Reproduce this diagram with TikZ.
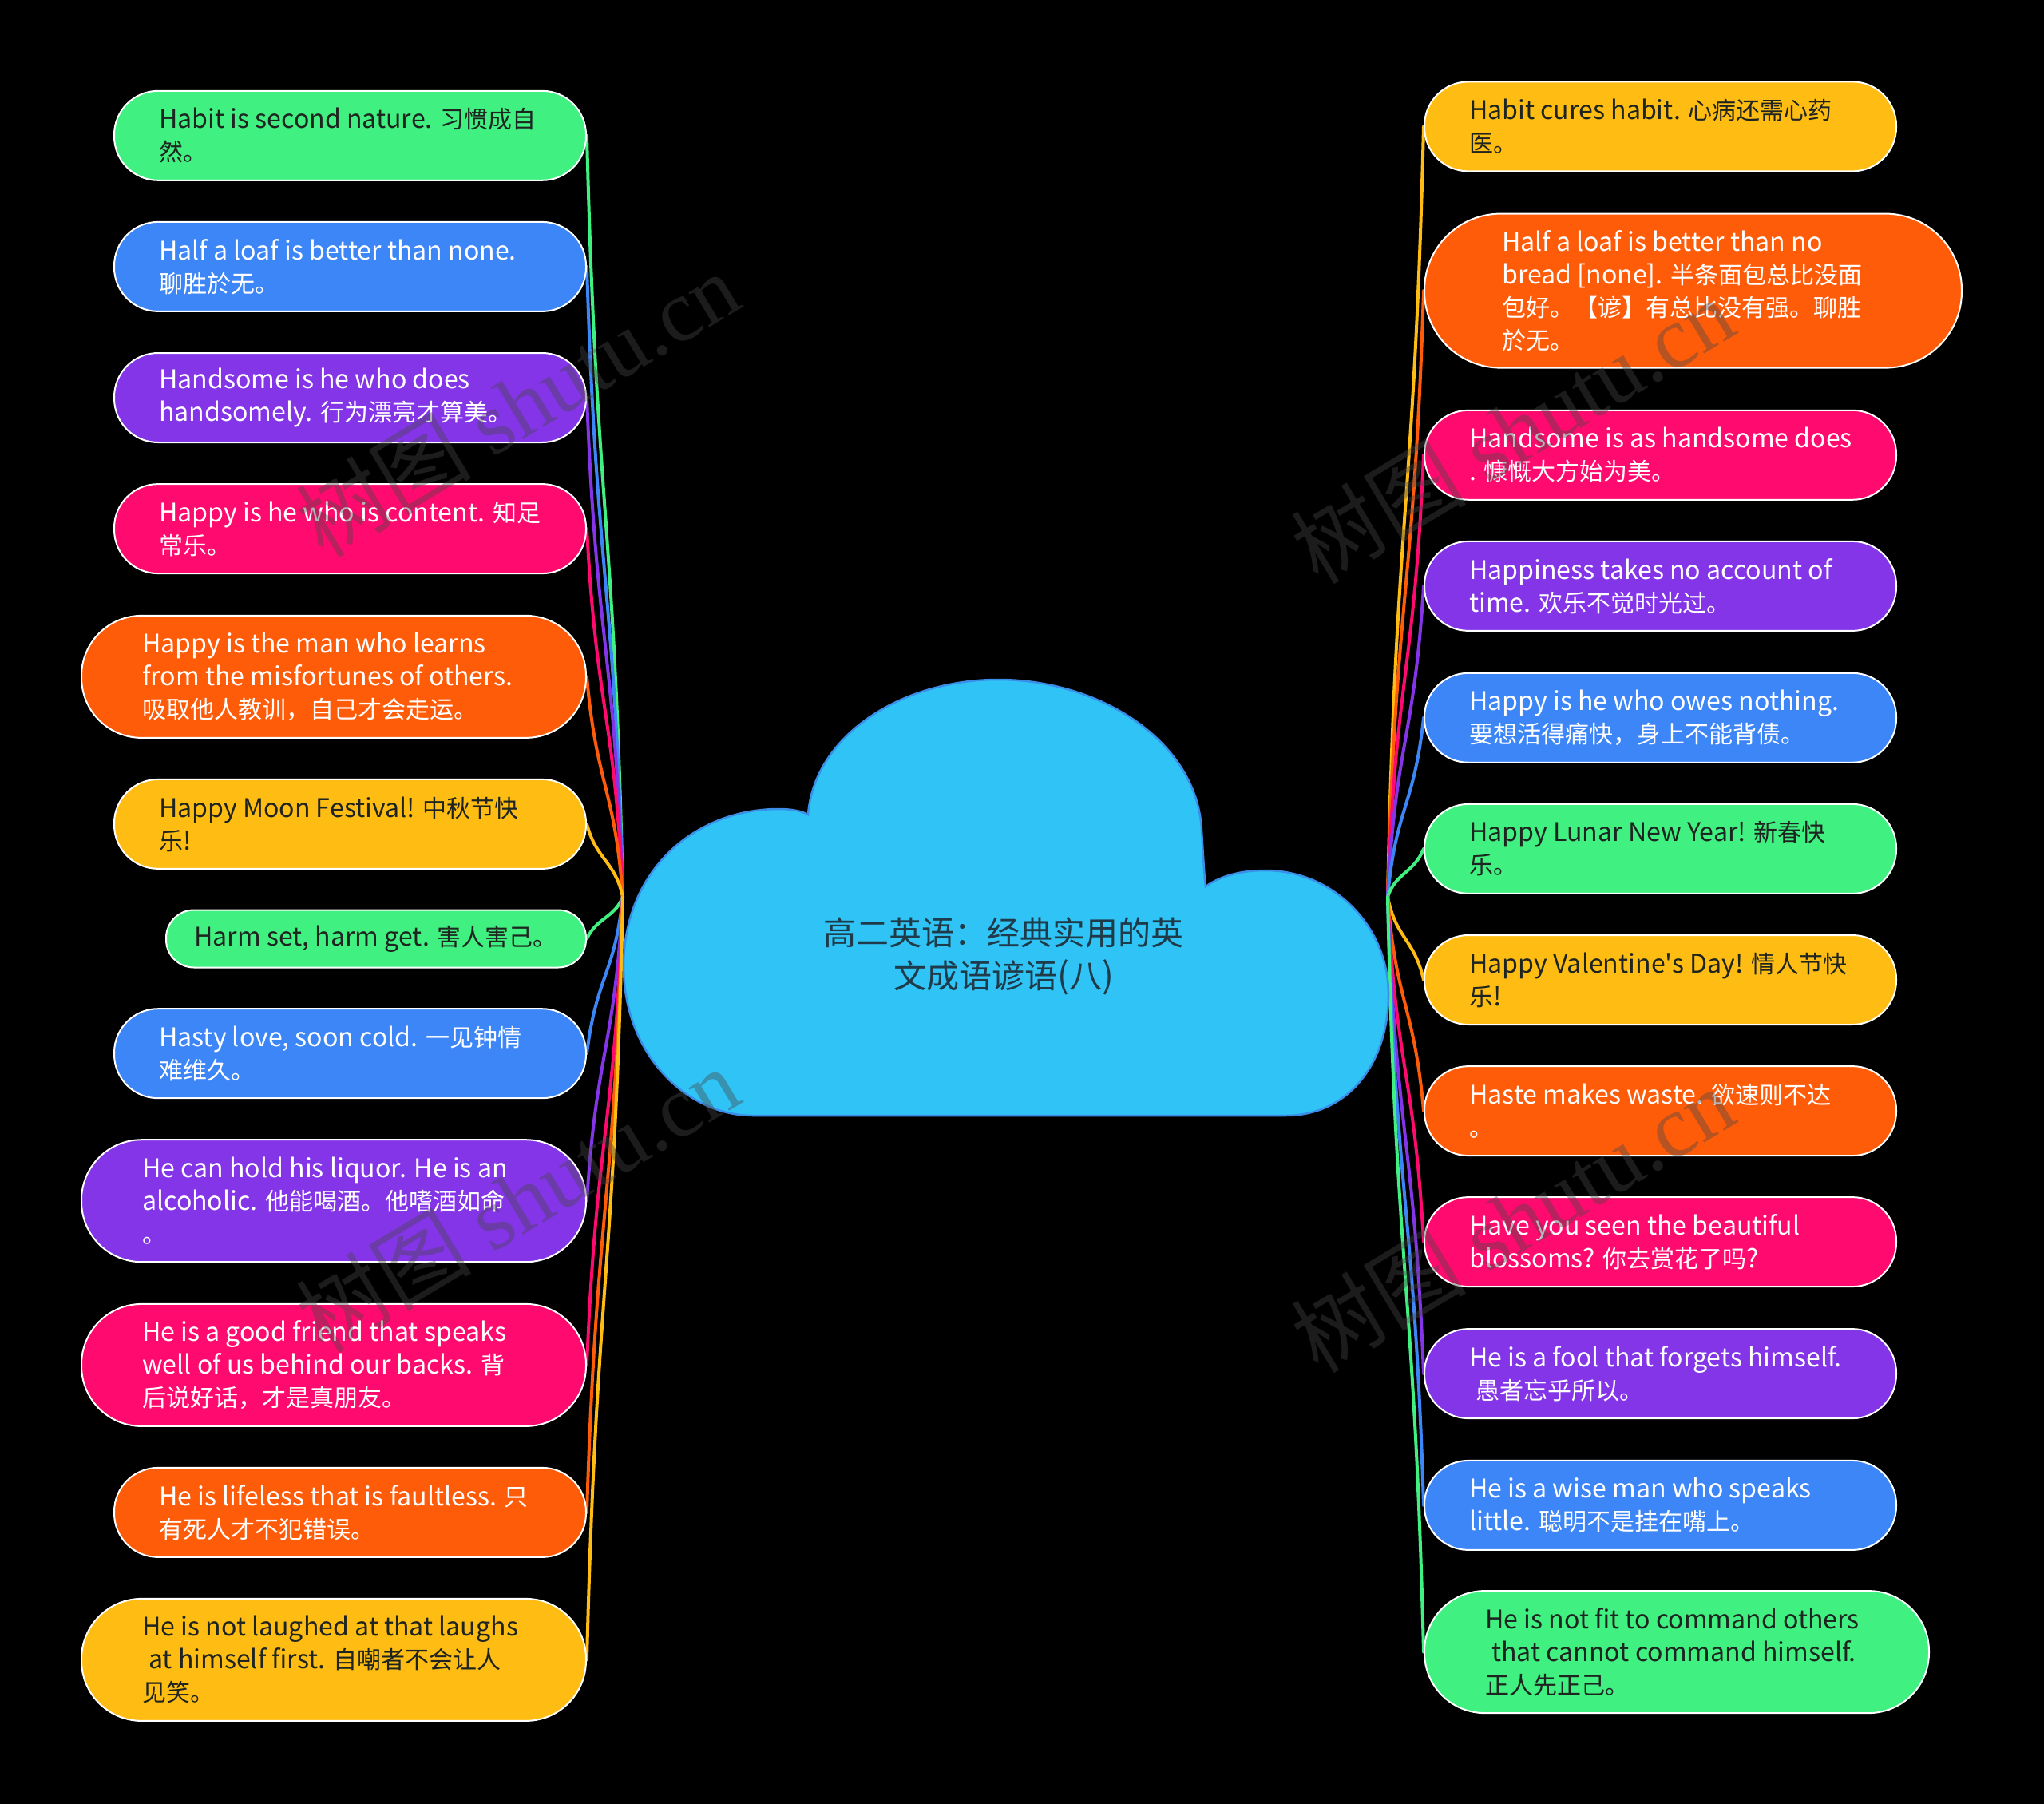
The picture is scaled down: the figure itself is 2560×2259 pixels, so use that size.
\documentclass[tikz,border=0pt]{standalone}
\usepackage{fontspec}
\setmainfont[Scale=1.07, Ligatures=TeXOff]{Noto Sans CJK SC}
\newfontfamily\zhfont{Noto Sans CJK SC}
\newfontfamily\wmserif{Liberation Serif}
% automatic switch to the unscaled face for CJK characters
\XeTeXinterchartokenstate=1
\newXeTeXintercharclass\zhcls
\newcount\zhc
\zhc="4E00
\loop\XeTeXcharclass\zhc=\zhcls\advance\zhc by 1\ifnum\zhc<"A000\repeat
\zhc="3000
\loop\XeTeXcharclass\zhc=\zhcls\advance\zhc by 1\ifnum\zhc<"3040\repeat
\zhc="FF00
\loop\XeTeXcharclass\zhc=\zhcls\advance\zhc by 1\ifnum\zhc<"FF20\repeat
\XeTeXinterchartoks 0 \zhcls = {\zhfont}
\XeTeXinterchartoks 4095 \zhcls = {\zhfont}
\XeTeXinterchartoks \zhcls 0 = {\rmfamily}
\XeTeXinterchartoks \zhcls 4095 = {\rmfamily}
\usetikzlibrary{calc}
\definecolor{cgreen}{HTML}{40F080}
\definecolor{cblue}{HTML}{3D86F7}
\definecolor{cpurple}{HTML}{8435E8}
\definecolor{cpink}{HTML}{FF0A6E}
\definecolor{corange}{HTML}{FF5C0A}
\definecolor{cyellow}{HTML}{FFBD14}
\definecolor{cloudfill}{HTML}{30C3F5}
\definecolor{cloudline}{HTML}{3B8EE8}
\definecolor{darktext}{HTML}{1E2420}
\definecolor{titletext}{HTML}{1F3A48}
\definecolor{wmgray}{HTML}{464646}
\pgfdeclarelayer{back}
\pgfdeclarelayer{lines}
\pgfdeclarelayer{front}
\pgfsetlayers{back,lines,main,front}
\tikzset{
  box/.style={draw=white, line width=2pt, inner sep=0pt},
  two/.style={minimum width=591pt, minimum height=112pt, rounded corners=55pt},
  three/.style={minimum width=632pt, minimum height=153pt, rounded corners=75.5pt},
  one/.style={minimum width=526pt, minimum height=72pt, rounded corners=35pt},
  four/.style={minimum width=673pt, minimum height=193pt, rounded corners=95.5pt},
  txt/.style={align=left, inner sep=0pt, anchor=west, font=\fontsize{30pt}{41pt}\selectfont},
  dtxt/.style={txt, text=darktext},
  wtxt/.style={txt, text=white},
  gbox/.style={box, fill=cgreen},
  bbox/.style={box, fill=cblue},
  pbox/.style={box, fill=cpurple},
  kbox/.style={box, fill=cpink},
  obox/.style={box, fill=corange},
  ybox/.style={box, fill=cyellow},
  conn/.style={line width=4pt, line cap=round},
  wm/.style={text=wmgray, opacity=0.4, font=\fontsize{110pt}{120pt}\selectfont, inner sep=0pt},
}
\newcommand\lconn[2]{\draw[conn,draw=#2] let \p1=(hubL), \p2=(#1.east) in
  (\p1) .. controls (\x1-10pt,{0.5*\y1+0.5*\y2}) and (\x2+12pt,{0.5*\y1+0.5*\y2}) .. (\p2);}
\newcommand\rconn[2]{\draw[conn,draw=#2] let \p1=(hubR), \p2=(#1.west) in
  (\p1) .. controls (\x1+10pt,{0.5*\y1+0.5*\y2}) and (\x2-12pt,{0.5*\y1+0.5*\y2}) .. (\p2);}
\begin{document}
\begin{tikzpicture}[x=1pt,y=-1pt]
\begin{pgfonlayer}{back}
\fill[black] (0,0) rectangle (2560,2259);
\end{pgfonlayer}
\useasboundingbox (0,0) rectangle (2560,2259);

% cloud
\draw[fill=cloudfill, draw=cloudline, line width=2.5pt]
  (943,1397) .. controls (860,1397) and (781,1320) .. (781,1210)
  .. controls (781,1090) and (870,1013) .. (975,1013)
  .. controls (990,1013) and (1003,1015) .. (1012,1020)
  .. controls (1020,920) and (1130,851) .. (1250,851)
  .. controls (1380,851) and (1500,930) .. (1505,1040)
  .. controls (1507,1070) and (1508,1095) .. (1510,1110)
  .. controls (1530,1096) and (1555,1090) .. (1585,1090)
  .. controls (1670,1090) and (1739,1160) .. (1739,1245)
  .. controls (1739,1330) and (1690,1397) .. (1610,1397)
  -- cycle;
\node[align=center, text=titletext, font=\fontsize{41pt}{54pt}\selectfont] (title) at (1257,1197)
  {高二英语：经典实用的英\\文成语谚语(八)};

\coordinate (hubL) at (780,1123);
\coordinate (hubR) at (1738,1123);

% left nodes
\node[gbox, two, anchor=east] (L1) at (735,169.8) {};
\node[dtxt] (L1t) at ($(L1.west)+(57,0)$) {Habit is second nature. 习惯成自\\然。};
\node[bbox, two, anchor=east] (L2) at (735,333.9) {};
\node[wtxt] (L2t) at ($(L2.west)+(57,0)$) {Half a loaf is better than none.\\聊胜於无。};
\node[pbox, two, anchor=east] (L3) at (735,498.0) {};
\node[wtxt] (L3t) at ($(L3.west)+(57,0)$) {Handsome is he who does\\handsomely. 行为漂亮才算美。};
\node[kbox, two, anchor=east] (L4) at (735,662.1) {};
\node[wtxt] (L4t) at ($(L4.west)+(57,0)$) {Happy is he who is content. 知足\\常乐。};
\node[obox, three, anchor=east] (L5) at (735,847.4) {};
\node[wtxt] (L5t) at ($(L5.west)+(77,0)$) {Happy is the man who learns\\from the misfortunes of others.\\吸取他人教训，自己才会走运。};
\node[ybox, two, anchor=east] (L6) at (735,1031.9) {};
\node[dtxt] (L6t) at ($(L6.west)+(57,0)$) {Happy Moon Festival! 中秋节快\\乐!};
\node[gbox, one, anchor=east] (L7) at (735,1175.5) {};
\node[dtxt] (L7t) at ($(L7.west)+(36,0)$) {Harm set, harm get. 害人害己。};
\node[bbox, two, anchor=east] (L8) at (735,1319.2) {};
\node[wtxt] (L8t) at ($(L8.west)+(57,0)$) {Hasty love, soon cold. 一见钟情\\难维久。};
\node[pbox, three, anchor=east] (L9) at (735,1503.7) {};
\node[wtxt] (L9t) at ($(L9.west)+(77,0)$) {He can hold his liquor. He is an\\alcoholic. 他能喝酒。他嗜酒如命\\。};
\node[kbox, three, anchor=east] (L10) at (735,1709.4) {};
\node[wtxt] (L10t) at ($(L10.west)+(77,0)$) {He is a good friend that speaks\\well of us behind our backs. 背\\后说好话，才是真朋友。};
\node[obox, two, anchor=east] (L11) at (735,1893.9) {};
\node[wtxt] (L11t) at ($(L11.west)+(57,0)$) {He is lifeless that is faultless. 只\\有死人才不犯错误。};
\node[ybox, three, anchor=east] (L12) at (735,2078.4) {};
\node[dtxt] (L12t) at ($(L12.west)+(77,0)$) {He is not laughed at that laughs\\\hspace*{8pt}at himself first. 自嘲者不会让人\\见笑。};

% right nodes
\node[ybox, two, anchor=west] (R1) at (1783,158.4) {};
\node[dtxt] (R1t) at ($(R1.west)+(57,0)$) {Habit cures habit. 心病还需心药\\医。};
\node[obox, four, anchor=west] (R2) at (1783,364.1) {};
\node[wtxt] (R2t) at ($(R2.west)+(98,0)$) {Half a loaf is better than no\\bread [none]. 半条面包总比没面\\包好。【谚】有总比没有强。聊胜\\於无。};
\node[kbox, two, anchor=west] (R3) at (1783,569.8) {};
\node[wtxt] (R3t) at ($(R3.west)+(57,0)$) {Handsome is as handsome does\\. 慷慨大方始为美。};
\node[pbox, two, anchor=west] (R4) at (1783,733.9) {};
\node[wtxt] (R4t) at ($(R4.west)+(57,0)$) {Happiness takes no account of\\time. 欢乐不觉时光过。};
\node[bbox, two, anchor=west] (R5) at (1783,898.8) {};
\node[wtxt] (R5t) at ($(R5.west)+(57,0)$) {Happy is he who owes nothing.\\要想活得痛快，身上不能背债。};
\node[gbox, two, anchor=west] (R6) at (1783,1062.9) {};
\node[dtxt] (R6t) at ($(R6.west)+(57,0)$) {Happy Lunar New Year! 新春快\\乐。};
\node[ybox, two, anchor=west] (R7) at (1783,1227.0) {};
\node[dtxt] (R7t) at ($(R7.west)+(57,0)$) {Happy Valentine's Day! 情人节快\\乐!};
\node[obox, two, anchor=west] (R8) at (1783,1391.1) {};
\node[wtxt] (R8t) at ($(R8.west)+(57,0)$) {Haste makes waste. 欲速则不达\\。};
\node[kbox, two, anchor=west] (R9) at (1783,1555.1) {};
\node[wtxt] (R9t) at ($(R9.west)+(57,0)$) {Have you seen the beautiful\\blossoms? 你去赏花了吗?};
\node[pbox, two, anchor=west] (R10) at (1783,1720.1) {};
\node[wtxt] (R10t) at ($(R10.west)+(57,0)$) {He is a fool that forgets himself.\\\hspace*{8pt}愚者忘乎所以。};
\node[bbox, two, anchor=west] (R11) at (1783,1884.9) {};
\node[wtxt] (R11t) at ($(R11.west)+(57,0)$) {He is a wise man who speaks\\little. 聪明不是挂在嘴上。};
\node[gbox, three, anchor=west] (R12) at (1783,2068.6) {};
\node[dtxt] (R12t) at ($(R12.west)+(77,0)$) {He is not fit to command others\\\hspace*{8pt}that cannot command himself.\\正人先正己。};

\begin{pgfonlayer}{lines}
\lconn{L1}{cgreen}
\lconn{L2}{cblue}
\lconn{L3}{cpurple}
\lconn{L4}{cpink}
\lconn{L5}{corange}
\lconn{L6}{cyellow}
\lconn{L7}{cgreen}
\lconn{L8}{cblue}
\lconn{L9}{cpurple}
\lconn{L10}{cpink}
\lconn{L11}{corange}
\lconn{L12}{cyellow}
\rconn{R1}{cyellow}
\rconn{R2}{corange}
\rconn{R3}{cpink}
\rconn{R4}{cpurple}
\rconn{R5}{cblue}
\rconn{R6}{cgreen}
\rconn{R7}{cyellow}
\rconn{R8}{corange}
\rconn{R9}{cpink}
\rconn{R10}{cpurple}
\rconn{R11}{cblue}
\rconn{R12}{cgreen}
\end{pgfonlayer}

\begin{pgfonlayer}{front}
\node[wm, rotate=31] (wm1) at (648,506) {树图 {\wmserif shutu.cn}};
\node[wm, rotate=31] (wm2) at (1894,539) {树图 {\wmserif shutu.cn}};
\node[wm, rotate=31] (wm3) at (648,1502) {树图 {\wmserif shutu.cn}};
\node[wm, rotate=31] (wm4) at (1894,1527) {树图 {\wmserif shutu.cn}};
\end{pgfonlayer}
\end{tikzpicture}
\end{document}
